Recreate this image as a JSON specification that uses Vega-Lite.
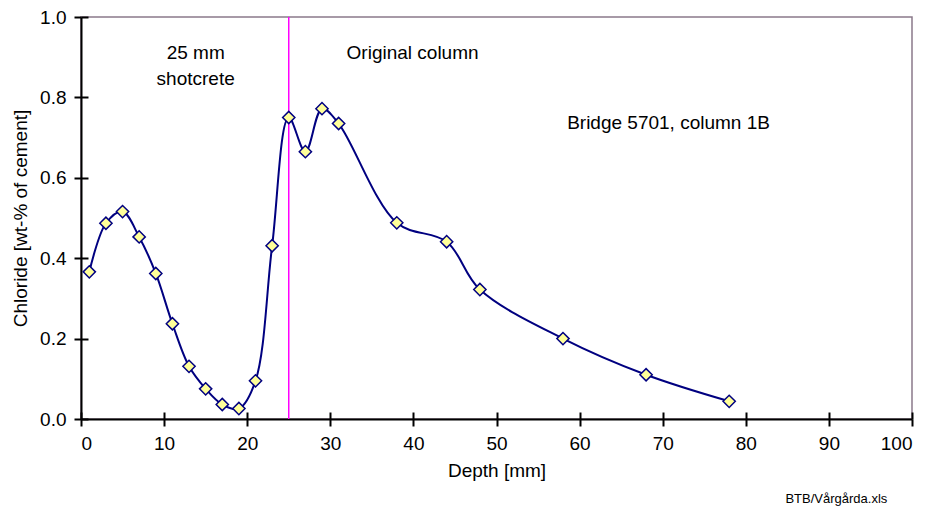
{
  "$schema": "https://vega.github.io/schema/vega-lite/v6.json",
  "width": 831,
  "height": 402,
  "autosize": {"type": "none"},
  "padding": {"left": 81, "top": 17, "right": 18, "bottom": 89},
  "background": "white",
  "config": {
    "view": {"stroke": "#8a7a8a", "strokeWidth": 1.5},
    "font": "Liberation Sans",
    "axis": {
      "labelFont": "Liberation Sans",
      "titleFont": "Liberation Sans",
      "labelFontSize": 19,
      "titleFontSize": 19,
      "titleFontWeight": "normal",
      "labelColor": "black",
      "titleColor": "black",
      "domainColor": "black",
      "domainWidth": 2,
      "tickColor": "black",
      "tickWidth": 2,
      "tickSize": 7,
      "grid": false
    }
  },
  "resolve": {"axis": {"x": "independent", "y": "independent"}},
  "datasets": {
    "profile": [
      {"depth": 1, "chloride": 0.366},
      {"depth": 3, "chloride": 0.487},
      {"depth": 5, "chloride": 0.516},
      {"depth": 7, "chloride": 0.453},
      {"depth": 9, "chloride": 0.362},
      {"depth": 11, "chloride": 0.237},
      {"depth": 13, "chloride": 0.131},
      {"depth": 15, "chloride": 0.075},
      {"depth": 17, "chloride": 0.036},
      {"depth": 19, "chloride": 0.026},
      {"depth": 21, "chloride": 0.095},
      {"depth": 23, "chloride": 0.431},
      {"depth": 25, "chloride": 0.750},
      {"depth": 27, "chloride": 0.665},
      {"depth": 29, "chloride": 0.772},
      {"depth": 31, "chloride": 0.735},
      {"depth": 38, "chloride": 0.488},
      {"depth": 44, "chloride": 0.441},
      {"depth": 48, "chloride": 0.322},
      {"depth": 58, "chloride": 0.200},
      {"depth": 68, "chloride": 0.110},
      {"depth": 78, "chloride": 0.044}
    ],
    "centered": [
      {"depth": 13.8, "chloride": 0.910, "label": "25  mm"},
      {"depth": 13.8, "chloride": 0.846, "label": "shotcrete"},
      {"depth": 39.9, "chloride": 0.910, "label": "Original column"}
    ],
    "lefted": [
      {"depth": 58.5, "chloride": 0.737, "label": "Bridge 5701, column 1B"}
    ]
  },
  "layer": [
    {
      "data": {"values": [{"depth": 25}]},
      "mark": {"type": "rule", "color": "#ff00ff", "strokeWidth": 1.5},
      "encoding": {
        "x": {"field": "depth", "type": "quantitative", "scale": {"domain": [0, 100], "nice": false}, "axis": null}
      }
    },
    {
      "data": {"name": "profile"},
      "mark": {"type": "line", "interpolate": "catmull-rom", "color": "#000080", "strokeWidth": 2},
      "encoding": {
        "x": {
          "field": "depth", "type": "quantitative",
          "scale": {"domain": [0, 100], "nice": false},
          "axis": {"orient": "bottom", "values": [0,10,20,30,40,50,60,70,80,90,100], "title": "Depth [mm]", "labelPadding": 8, "titlePadding": 8}
        },
        "y": {
          "field": "chloride", "type": "quantitative",
          "scale": {"domain": [0, 1], "nice": false},
          "axis": {"orient": "left", "values": [0,0.2,0.4,0.6,0.8,1.0], "format": ".1f", "title": "Chloride [wt-% of cement]", "labelPadding": 8, "titlePadding": 9}
        }
      }
    },
    {
      "data": {"name": "profile"},
      "mark": {"type": "point", "shape": "diamond", "filled": true, "fill": "#ffff99", "stroke": "#000080", "strokeWidth": 1.5, "size": 150, "opacity": 1},
      "encoding": {
        "x": {"field": "depth", "type": "quantitative", "scale": {"domain": [0, 100], "nice": false},
          "axis": {"orient": "bottom", "values": [0,10,20,30,40,50,60,70,80,90,100], "tickSize": -7, "labels": false, "domain": false, "title": null}},
        "y": {"field": "chloride", "type": "quantitative", "scale": {"domain": [0, 1], "nice": false},
          "axis": {"orient": "left", "values": [0,0.2,0.4,0.6,0.8,1.0], "tickSize": -7, "labels": false, "domain": false, "title": null}}
      }
    },
    {
      "data": {"name": "centered"},
      "mark": {"type": "text", "font": "Liberation Sans", "fontSize": 19, "color": "black", "baseline": "middle", "align": "center"},
      "encoding": {
        "x": {"field": "depth", "type": "quantitative", "axis": null},
        "y": {"field": "chloride", "type": "quantitative", "axis": null},
        "text": {"field": "label"}
      }
    },
    {
      "data": {"name": "lefted"},
      "mark": {"type": "text", "font": "Liberation Sans", "fontSize": 19, "color": "black", "baseline": "middle", "align": "left"},
      "encoding": {
        "x": {"field": "depth", "type": "quantitative", "axis": null},
        "y": {"field": "chloride", "type": "quantitative", "axis": null},
        "text": {"field": "label"}
      }
    },
    {
      "data": {"values": [{"depth": 90.9, "chloride": -0.2, "label": "BTB/Vårgårda.xls"}]},
      "mark": {"type": "text", "font": "Liberation Sans", "fontSize": 13, "color": "black", "baseline": "middle", "align": "center"},
      "encoding": {
        "x": {"field": "depth", "type": "quantitative", "axis": null},
        "y": {"field": "chloride", "type": "quantitative", "axis": null},
        "text": {"field": "label"}
      }
    }
  ]
}
